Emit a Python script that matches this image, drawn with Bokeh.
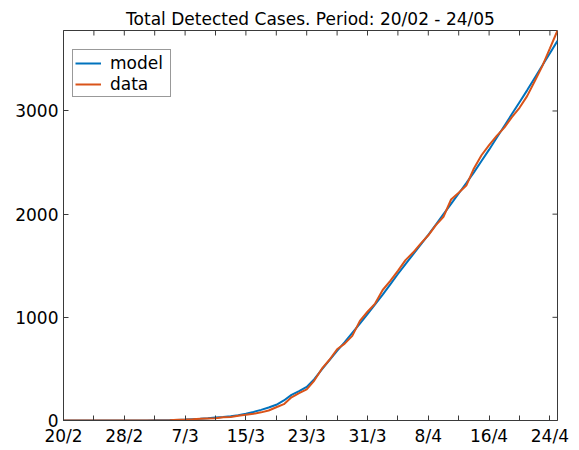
import math
from bokeh.plotting import figure
from bokeh.models import Range1d, FixedTicker, Legend, Title
from bokeh.embed import file_html
from bokeh.resources import INLINE

# day index 0 = 20/2
days = list(range(66))
model = ([0] * 10 + [1, 1] +
         [2, 3, 4, 6, 9, 13, 17, 22, 28, 34,
          42, 52, 66, 83, 103, 126, 152, 194, 248, 285,
          325, 400, 495, 585, 675, 760, 850, 940, 1030, 1125,
          1220, 1320, 1420, 1515, 1610, 1705, 1800, 1900, 2000, 2100,
          2200, 2300, 2405, 2515, 2625, 2740, 2855, 2970, 3085, 3200,
          3320, 3440, 3560, 3680])
data = ([0] * 12 +
        [1, 1, 2, 8, 9, 12, 17, 19, 21, 31,
         34, 45, 56, 65, 79, 97, 128, 158, 225, 266,
         301, 387, 502, 589, 690, 745, 820, 966, 1054, 1133,
         1265, 1353, 1451, 1554, 1628, 1715, 1795, 1894, 1975, 2142,
         2208, 2277, 2443, 2571, 2669, 2758, 2839, 2941, 3031, 3144,
         3288, 3435, 3607, 3780])
x_tick_days = [0, 8, 16, 24, 32, 40, 48, 56, 64]
x_tick_labels = ["20/2", "28/2", "7/3", "15/3", "23/3", "31/3", "8/4", "16/4", "24/4"]
x_minor_days = [4, 12, 20, 28, 36, 44, 52, 60]
y_ticks = [0, 1000, 2000, 3000]
title_text = "Total Detected Cases. Period: 20/02 - 24/05"

FONT = "DejaVu Sans"
FS = "17px"
AX = "#3a3a3a"
BLUE = "#0072BD"
ORANGE = "#D95319"
X0, X1 = 0, 65
Y0, Y1 = 0, max(data)

p = figure(frame_width=494, frame_height=390, output_backend="svg", toolbar_location=None,
           x_range=Range1d(X0, X1), y_range=Range1d(Y0, Y1),
           min_border_left=63, min_border_right=14, min_border_top=30, min_border_bottom=28)
p.title = Title(text=title_text, align="center", text_font_size=FS,
                text_font_style="normal", text_font=FONT, text_color="#000000",
                standoff=3)
p.grid.visible = False
p.outline_line_color = AX
p.background_fill_color = "white"
p.border_fill_color = "white"


def style(ax):
    ax.axis_line_color = AX
    ax.major_tick_line_color = AX
    ax.minor_tick_line_color = AX
    ax.major_tick_in = 5
    ax.major_tick_out = 0
    ax.minor_tick_in = 5
    ax.minor_tick_out = 0
    ax.major_label_text_font = FONT
    ax.major_label_text_color = "#000000"
    ax.major_label_text_font_size = FS


xa = p.xaxis[0]
xa.ticker = FixedTicker(ticks=x_tick_days, minor_ticks=x_minor_days)
xa.major_label_overrides = {d: l for d, l in zip(x_tick_days, x_tick_labels)}
style(xa)
xa.major_label_standoff = 5

ya = p.yaxis[0]
ya.ticker = FixedTicker(ticks=y_ticks, minor_ticks=[])
style(ya)
ya.major_label_standoff = 5

# inward ticks on the top and right edges of the box
top_ticks = sorted(x_tick_days + x_minor_days)
p.ray(x=top_ticks, y=[Y1] * len(top_ticks), length=5, length_units="screen",
      angle=-math.pi / 2, line_color=AX, line_width=1)
p.ray(x=[X1] * len(y_ticks), y=y_ticks, length=5, length_units="screen",
      angle=math.pi, line_color=AX, line_width=1)

r1 = p.line(days, model, line_color=BLUE, line_width=2)
r2 = p.line(days, data, line_color=ORANGE, line_width=2)

legend = Legend(items=[("model", [r1]), ("data", [r2])], location=(9, 323),
                label_text_font=FONT, label_text_font_size=FS, label_text_color="#000000",
                glyph_width=26, glyph_height=20, label_height=21, label_width=58,
                label_standoff=9, padding=2, spacing=0, margin=0,
                border_line_color="#333333", border_line_width=1,
                background_fill_color="white", background_fill_alpha=1.0)
p.add_layout(legend, "center")

open("out.html", "w").write(file_html(p, INLINE))
